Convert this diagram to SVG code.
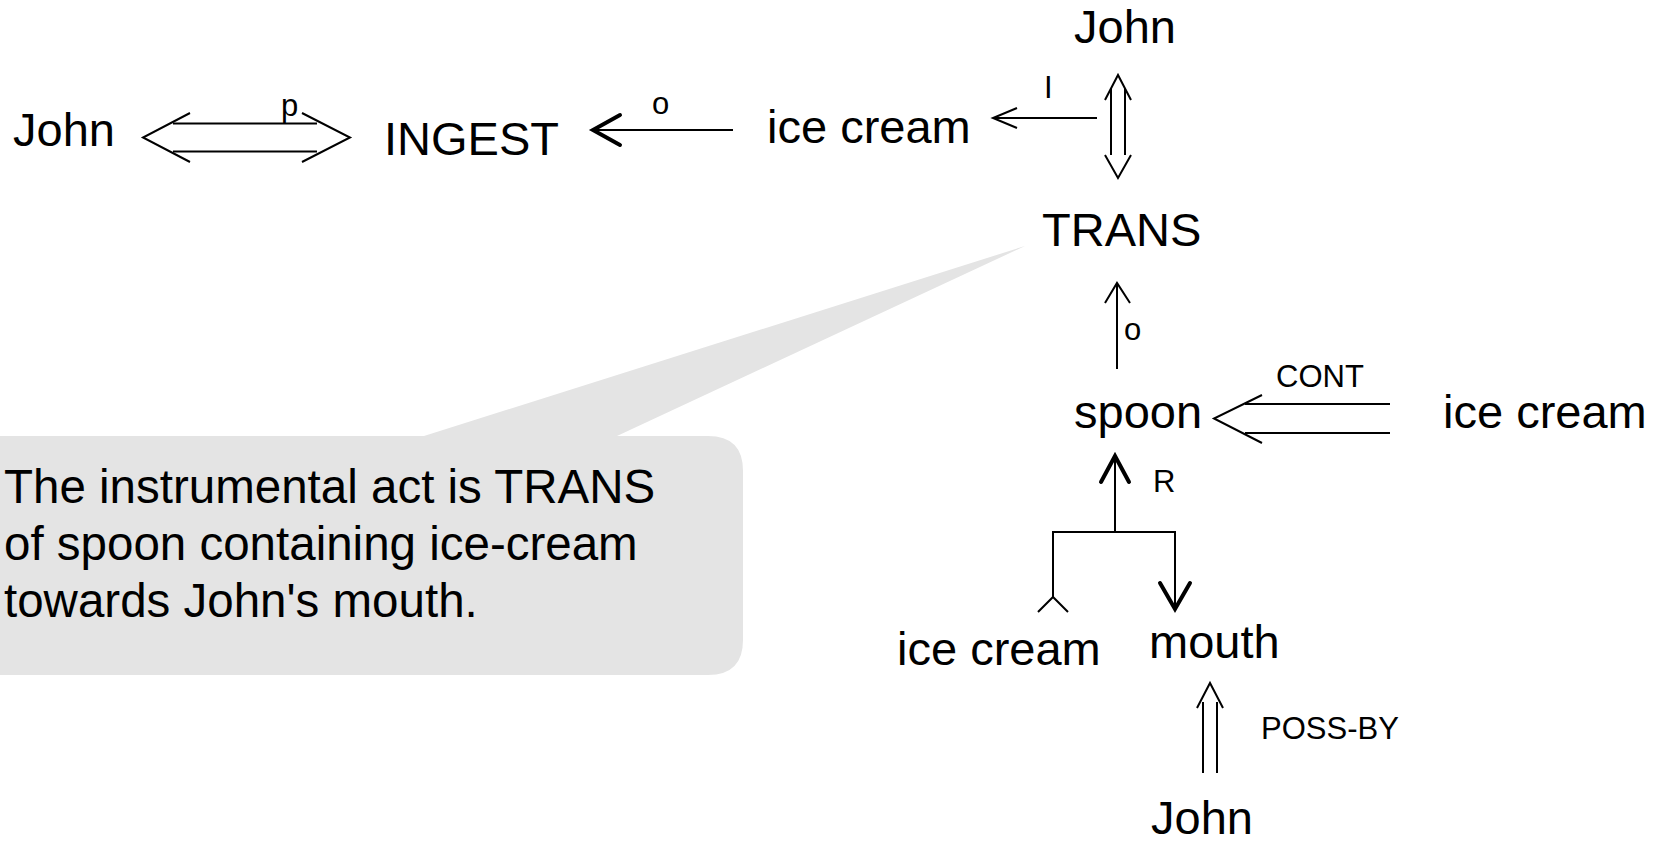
<svg xmlns="http://www.w3.org/2000/svg" width="1661" height="841" viewBox="0 0 1661 841">
<style>
text { font-family: "Liberation Sans", Arial, sans-serif; fill: #000; }
.node { font-size: 47px; }
.lbl { font-size: 31px; }
.note { font-size: 47.5px; }
.ln { fill: none; stroke: #000; stroke-width: 2; }
.hd { fill: none; stroke: #000; stroke-width: 4; stroke-linecap: round; stroke-linejoin: miter; }
.bubble { fill: #e4e4e4; }
</style>
<rect width="1661" height="841" fill="#ffffff"/>

<g id="callout">
  <path class="bubble" d="M-40,436 H424 L1025,246 L617,436 H708 Q743,436 743,471 V640 Q743,675 708,675 H-40 Z"/>
  <text class="note" x="4" y="503">The instrumental act is TRANS</text>
  <text class="note" x="4" y="560">of spoon containing ice-cream</text>
  <text class="note" x="4" y="617">towards John's mouth.</text>
</g>

<g id="connectors">
  <g id="c-john-ingest">
    <path class="ln" d="M173,123.5 H317 M173,151.5 H317"/>
    <path class="ln" d="M190,113 L143,137.5 L190,162 M302,113 L350,137.5 L302,162"/>
    <text class="lbl" x="281" y="116">p</text>
  </g>
  <g id="c-icecream-ingest">
    <path class="ln" d="M733,130 H595"/>
    <path class="hd" d="M620,115 L593,130 L620,145"/>
    <text class="lbl" x="652" y="114">o</text>
  </g>
  <g id="c-i">
    <path class="ln" d="M1097,118 H994"/>
    <path class="ln" d="M1017,108 L993,118 L1017,128"/>
    <text class="lbl" x="1044" y="98">I</text>
  </g>
  <g id="c-john-trans">
    <path class="ln" d="M1111,88 V155 M1125,88 V155"/>
    <path class="ln" d="M1105,100 L1118,75 L1131,100 M1105,155 L1118,178 L1131,155"/>
  </g>
  <g id="c-spoon-trans">
    <path class="ln" d="M1117,369 V284"/>
    <path class="ln" d="M1105,303 L1117,283 L1130,303"/>
    <text class="lbl" x="1124" y="340">o</text>
  </g>
  <g id="c-cont">
    <path class="ln" d="M1245,404 H1390 M1245,433 H1390"/>
    <path class="ln" d="M1262,395 L1214,418.5 L1262,443"/>
    <text class="lbl" x="1276" y="387">CONT</text>
  </g>
  <g id="c-r">
    <path class="ln" d="M1115,532 V458"/>
    <path class="hd" d="M1101,482 L1115,456 L1129,482"/>
    <path class="ln" d="M1053,597 V532 H1175 V607"/>
    <path class="hd" d="M1160,583 L1175,609 L1190,583"/>
    <path class="ln" d="M1038,612 L1053,597 L1068,612"/>
    <text class="lbl" x="1153" y="492">R</text>
  </g>
  <g id="c-poss">
    <path class="ln" d="M1203,702 V773 M1217,702 V773"/>
    <path class="ln" d="M1197,708 L1210,683 L1223,708"/>
    <text class="lbl" x="1261" y="739">POSS-BY</text>
  </g>
</g>

<g id="n-john-left"><text class="node" x="13" y="146">John</text></g>
<g id="n-ingest"><text class="node" x="384" y="155">INGEST</text></g>
<g id="n-icecream-top"><text class="node" x="767" y="143">ice cream</text></g>
<g id="n-john-top"><text class="node" x="1074" y="43">John</text></g>
<g id="n-trans"><text class="node" x="1042" y="246">TRANS</text></g>
<g id="n-spoon"><text class="node" x="1074" y="428">spoon</text></g>
<g id="n-icecream-right"><text class="node" x="1443" y="428">ice cream</text></g>
<g id="n-icecream-bottom"><text class="node" x="897" y="665">ice cream</text></g>
<g id="n-mouth"><text class="node" x="1149" y="658">mouth</text></g>
<g id="n-john-bottom"><text class="node" x="1151" y="834">John</text></g>
</svg>
